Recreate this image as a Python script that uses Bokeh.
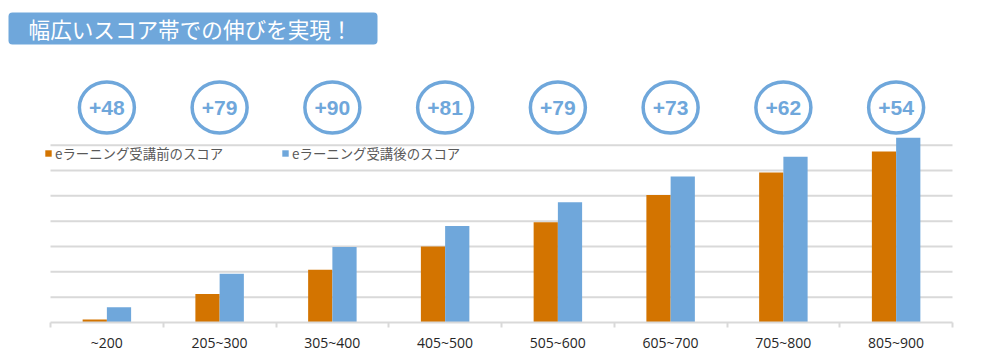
import numpy as np
from bokeh.plotting import figure
from bokeh.models import Range1d, FixedTicker, BoxAnnotation, Legend, LegendItem
from bokeh.core.properties import value
from bokeh.embed import file_html
from bokeh.resources import INLINE

# ---- data ----
categories = ["~200", "205~300", "305~400", "405~500", "505~600", "605~700", "705~800", "805~900"]
before = [112, 213, 308, 400, 496, 603, 692, 775]
gain = [48, 79, 90, 81, 79, 73, 62, 54]
after = [b + g for b, g in zip(before, gain)]
gain_labels = ["+%d" % g for g in gain]
legend_labels = ["eラーニング受講前のスコア", "eラーニング受講後のスコア"]
title_text = "幅広いスコア帯での伸びを実現！"
grid_values = [200, 300, 400, 500, 600, 700, 800]
y_base = 100

# ---- geometry ----
W, H = 1000, 355
AXIS_H = 33
FRAME_H = H - AXIS_H
LEFT_PX, RIGHT_PX = 50, 952
n = len(categories)
cat_px = (RIGHT_PX - LEFT_PX) / n
x_start = -0.5 - LEFT_PX / cat_px
x_end = x_start + W / cat_px
PX_PER_UNIT = 0.2533
y_end = y_base + FRAME_H / PX_PER_UNIT


def px_x(px):
    return x_start + px / cat_px


def px_y(py):
    return y_base + (FRAME_H - py) / PX_PER_UNIT


BLUE = "#6FA7DB"
ORANGE = "#D37400"
GRID = "#D9D9D9"

p = figure(width=W, height=H, x_range=Range1d(x_start, x_end), y_range=Range1d(y_base, y_end),
           output_backend="svg", toolbar_location=None, y_axis_location=None,
           min_border=0, min_border_bottom=AXIS_H, outline_line_color=None)
p.xgrid.visible = False
p.ygrid.visible = False

# x axis
ax = p.xaxis[0]
ax.ticker = FixedTicker(ticks=list(range(n)), minor_ticks=[i - 0.5 for i in range(n + 1)])
ax.major_label_overrides = {i: c for i, c in enumerate(categories)}
ax.major_tick_line_color = None
ax.major_tick_in = 0
ax.major_tick_out = 0
ax.minor_tick_in = 0
ax.minor_tick_out = 5
ax.minor_tick_line_color = GRID
ax.minor_tick_line_width = 2
ax.axis_line_color = GRID
ax.axis_line_width = 2
ax.bounds = (-0.5, n - 0.5)
ax.major_label_text_font = "Open Sans"
ax.major_label_text_font_size = "14px"
ax.major_label_text_color = "#262626"
ax.major_label_standoff = 5

# grid lines
p.segment(x0=-0.5, x1=n - 0.5, y0=grid_values, y1=grid_values, line_color=GRID, line_width=2)

# bars
bw = 0.215
xs = np.arange(n)
r1 = p.vbar(x=xs - bw / 2, top=before, bottom=y_base, width=bw, fill_color=ORANGE, line_color=None)
r2 = p.vbar(x=xs + bw / 2, top=after, bottom=y_base, width=bw, fill_color=BLUE, line_color=None)

# gain circles
cy = px_y(107)
p.ellipse(x=list(xs), y=cy, width=55, height=51, width_units="screen", height_units="screen",
          fill_color="white", line_color=BLUE, line_width=3.5)
p.text(x=list(xs), y=cy, text=gain_labels, text_font=value("Liberation Sans"), text_font_style="bold",
       text_font_size="21px", text_color=BLUE, text_align="center", text_baseline="middle")

# title box
box = BoxAnnotation(left=px_x(8), right=px_x(377), top=px_y(12), bottom=px_y(44),
                    fill_color=BLUE, fill_alpha=1, line_color=None, border_radius=4, level="underlay")
p.add_layout(box)
p.text(x=[px_x(190)], y=[px_y(28)], text=[title_text], text_font=value("Noto Sans CJK JP"),
       text_font_size="21.6px", text_color="white", text_align="center", text_baseline="middle")

# legend
legend = Legend(items=[LegendItem(label=legend_labels[0], renderers=[r1]),
                       LegendItem(label=legend_labels[1], renderers=[r2])],
                orientation="horizontal", location=(44, 159), glyph_width=8, glyph_height=8,
                label_standoff=3, spacing=58, padding=0, margin=0, border_line_color=None,
                background_fill_alpha=0, label_text_font="Noto Sans CJK JP",
                label_text_font_size="13.4px", label_text_color="#595959")
p.add_layout(legend)

open("out.html", "w").write(file_html(p, INLINE))
